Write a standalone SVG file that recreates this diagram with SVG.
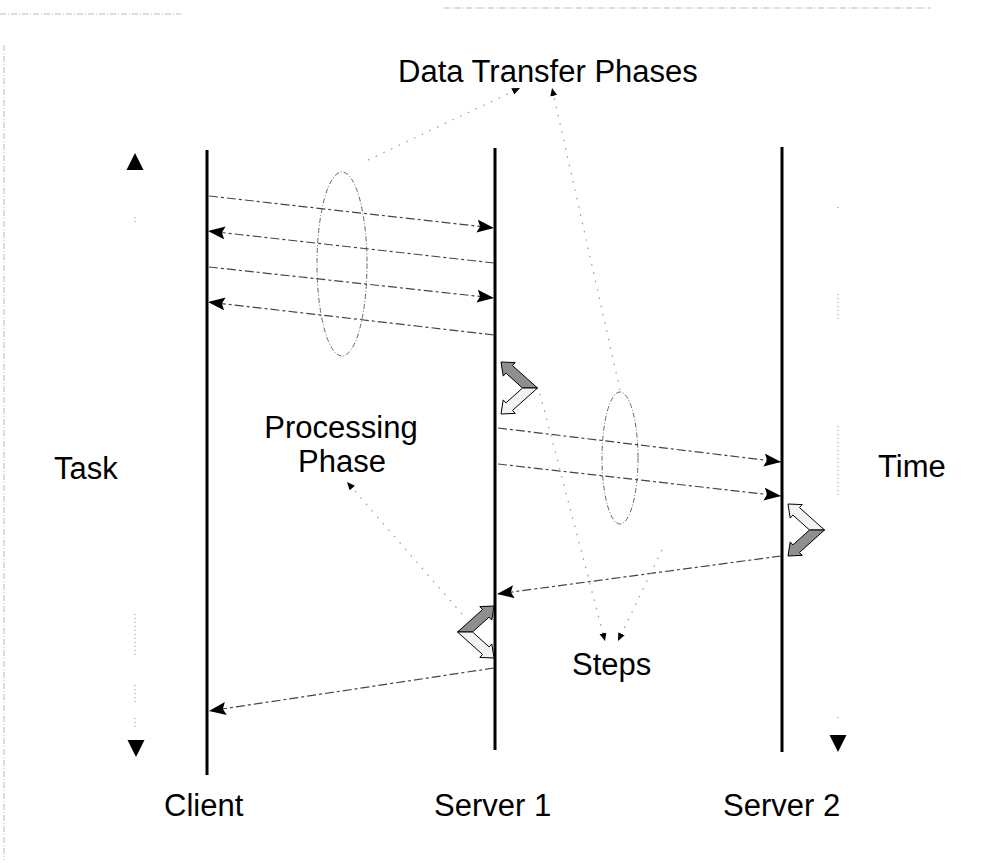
<svg xmlns="http://www.w3.org/2000/svg" xmlns:xlink="http://www.w3.org/1999/xlink" width="982" height="863" viewBox="0 0 982 863">
<style>
  text { font-family: "Liberation Sans", Arial, sans-serif; font-size: 31px; fill: #000; }
  .life { stroke: #000; stroke-width: 3; fill: none; }
  .msg { stroke: #444; stroke-width: 1.2; stroke-dasharray: 9 3 3 3; fill: none; marker-end: url(#ah); }
  .phase { stroke: #666; stroke-width: 1; stroke-dasharray: 5 2 1 2; fill: none; }
  .leader { stroke: #999; stroke-width: 1.2; stroke-dasharray: 1.5 7; fill: none; marker-end: url(#sh); }
  .axis { stroke: #888; stroke-width: 1; stroke-dasharray: 1 3; fill: none; }
  .border { stroke: #bbb; stroke-width: 1; stroke-dasharray: 6 2 1 2; fill: none; }
  .arm { stroke: #000; stroke-width: 1; stroke-linejoin: miter; }
  .dark { fill: #8f8f8f; }
  .light { fill: #f2f2f2; }
</style>
<defs>
  <marker id="ah" markerUnits="userSpaceOnUse" markerWidth="18" markerHeight="14" refX="17" refY="6.5" orient="auto">
    <path d="M0,0 L17,6.5 L0,13 L3,6.5 z" fill="#000"/>
  </marker>
  <marker id="sh" markerUnits="userSpaceOnUse" markerWidth="9" markerHeight="8" refX="8" refY="3.5" orient="auto">
    <path d="M0,0 L8,3.5 L0,7 z" fill="#000"/>
  </marker>
  <polygon id="armU" points="21.5,26 36.5,26 11.5,3.6 14.2,0.6 0,0 2.2,14.1 4.9,11.1"/>
  <polygon id="armL" points="21.5,26 36.5,26 11.5,48.4 14.2,51.4 0,52 2.2,37.9 4.9,40.9"/>
</defs>

<g id="scan-border">
  <line class="border" x1="0" y1="14" x2="181" y2="14"/>
  <line class="border" x1="444" y1="8" x2="931" y2="8"/>
  <line class="border" x1="4" y1="45" x2="4" y2="860"/>
</g>

<g id="title">
  <text x="398" y="82" font-size="32">Data Transfer Phases</text>
</g>

<g id="task-axis">
  <polygon points="135,153 143.5,170 126.5,170" fill="#000"/>
  <line class="axis" x1="135" y1="217" x2="135" y2="223"/>
  <line class="axis" x1="135" y1="614" x2="135" y2="656"/>
  <line class="axis" x1="135" y1="685" x2="135" y2="702"/>
  <line class="axis" x1="135" y1="718" x2="135" y2="728"/>
  <polygon points="127.5,740 144.5,740 136,757" fill="#000"/>
  <text x="54" y="479">Task</text>
</g>

<g id="time-axis">
  <line class="axis" x1="838" y1="207" x2="838" y2="211"/>
  <line class="axis" x1="838" y1="294" x2="838" y2="322"/>
  <line class="axis" x1="838" y1="426" x2="838" y2="497"/>
  <line class="axis" x1="838" y1="717" x2="838" y2="721"/>
  <polygon points="829.5,735 846.5,735 838,752" fill="#000"/>
  <text x="878" y="477">Time</text>
</g>

<g id="client">
  <line class="life" x1="207" y1="150" x2="207" y2="775"/>
  <text x="164" y="816">Client</text>
</g>
<g id="server1">
  <line class="life" x1="495" y1="148" x2="495" y2="750"/>
  <text x="434" y="816">Server 1</text>
</g>
<g id="server2">
  <line class="life" x1="782" y1="147" x2="782" y2="752"/>
  <text x="723" y="816">Server 2</text>
</g>

<g id="phase-transfer-1">
  <ellipse class="phase" cx="342" cy="264" rx="25" ry="92"/>
</g>
<g id="phase-transfer-2">
  <ellipse class="phase" cx="620" cy="458" rx="18" ry="66"/>
</g>

<g id="processing-s1-a" transform="translate(501,362)">
  <use xlink:href="#armU" class="arm dark"/>
  <use xlink:href="#armL" class="arm light"/>
</g>
<g id="processing-s2" transform="translate(788,504)">
  <use xlink:href="#armU" class="arm light"/>
  <use xlink:href="#armL" class="arm dark"/>
</g>
<g id="processing-s1-b" transform="translate(494,606) scale(-1,1)">
  <use xlink:href="#armU" class="arm dark"/>
  <use xlink:href="#armL" class="arm light"/>
</g>

<g id="labels">
  <text x="341" y="438" text-anchor="middle">Processing</text>
  <text x="342" y="472" text-anchor="middle">Phase</text>
  <text x="572" y="675">Steps</text>
</g>

<g id="connectors">
  <line class="msg" x1="209" y1="196" x2="494" y2="228"/>
  <line class="msg" x1="494" y1="263" x2="208" y2="231"/>
  <line class="msg" x1="209" y1="267" x2="494" y2="298"/>
  <line class="msg" x1="494" y1="335" x2="208" y2="302"/>
  <line class="msg" x1="498" y1="428" x2="781" y2="462"/>
  <line class="msg" x1="498" y1="464" x2="781" y2="496"/>
  <line class="msg" x1="781" y1="556" x2="497" y2="594"/>
  <line class="msg" x1="494" y1="668" x2="209" y2="711"/>

  <line class="leader" x1="368" y1="160" x2="520" y2="88"/>
  <line class="leader" x1="620" y1="390" x2="552" y2="88"/>
  <line class="leader" x1="462" y1="614" x2="347" y2="482"/>
  <line class="leader" x1="540" y1="394" x2="605" y2="641"/>
  <line class="leader" x1="662" y1="550" x2="618" y2="641"/>
</g>
</svg>
